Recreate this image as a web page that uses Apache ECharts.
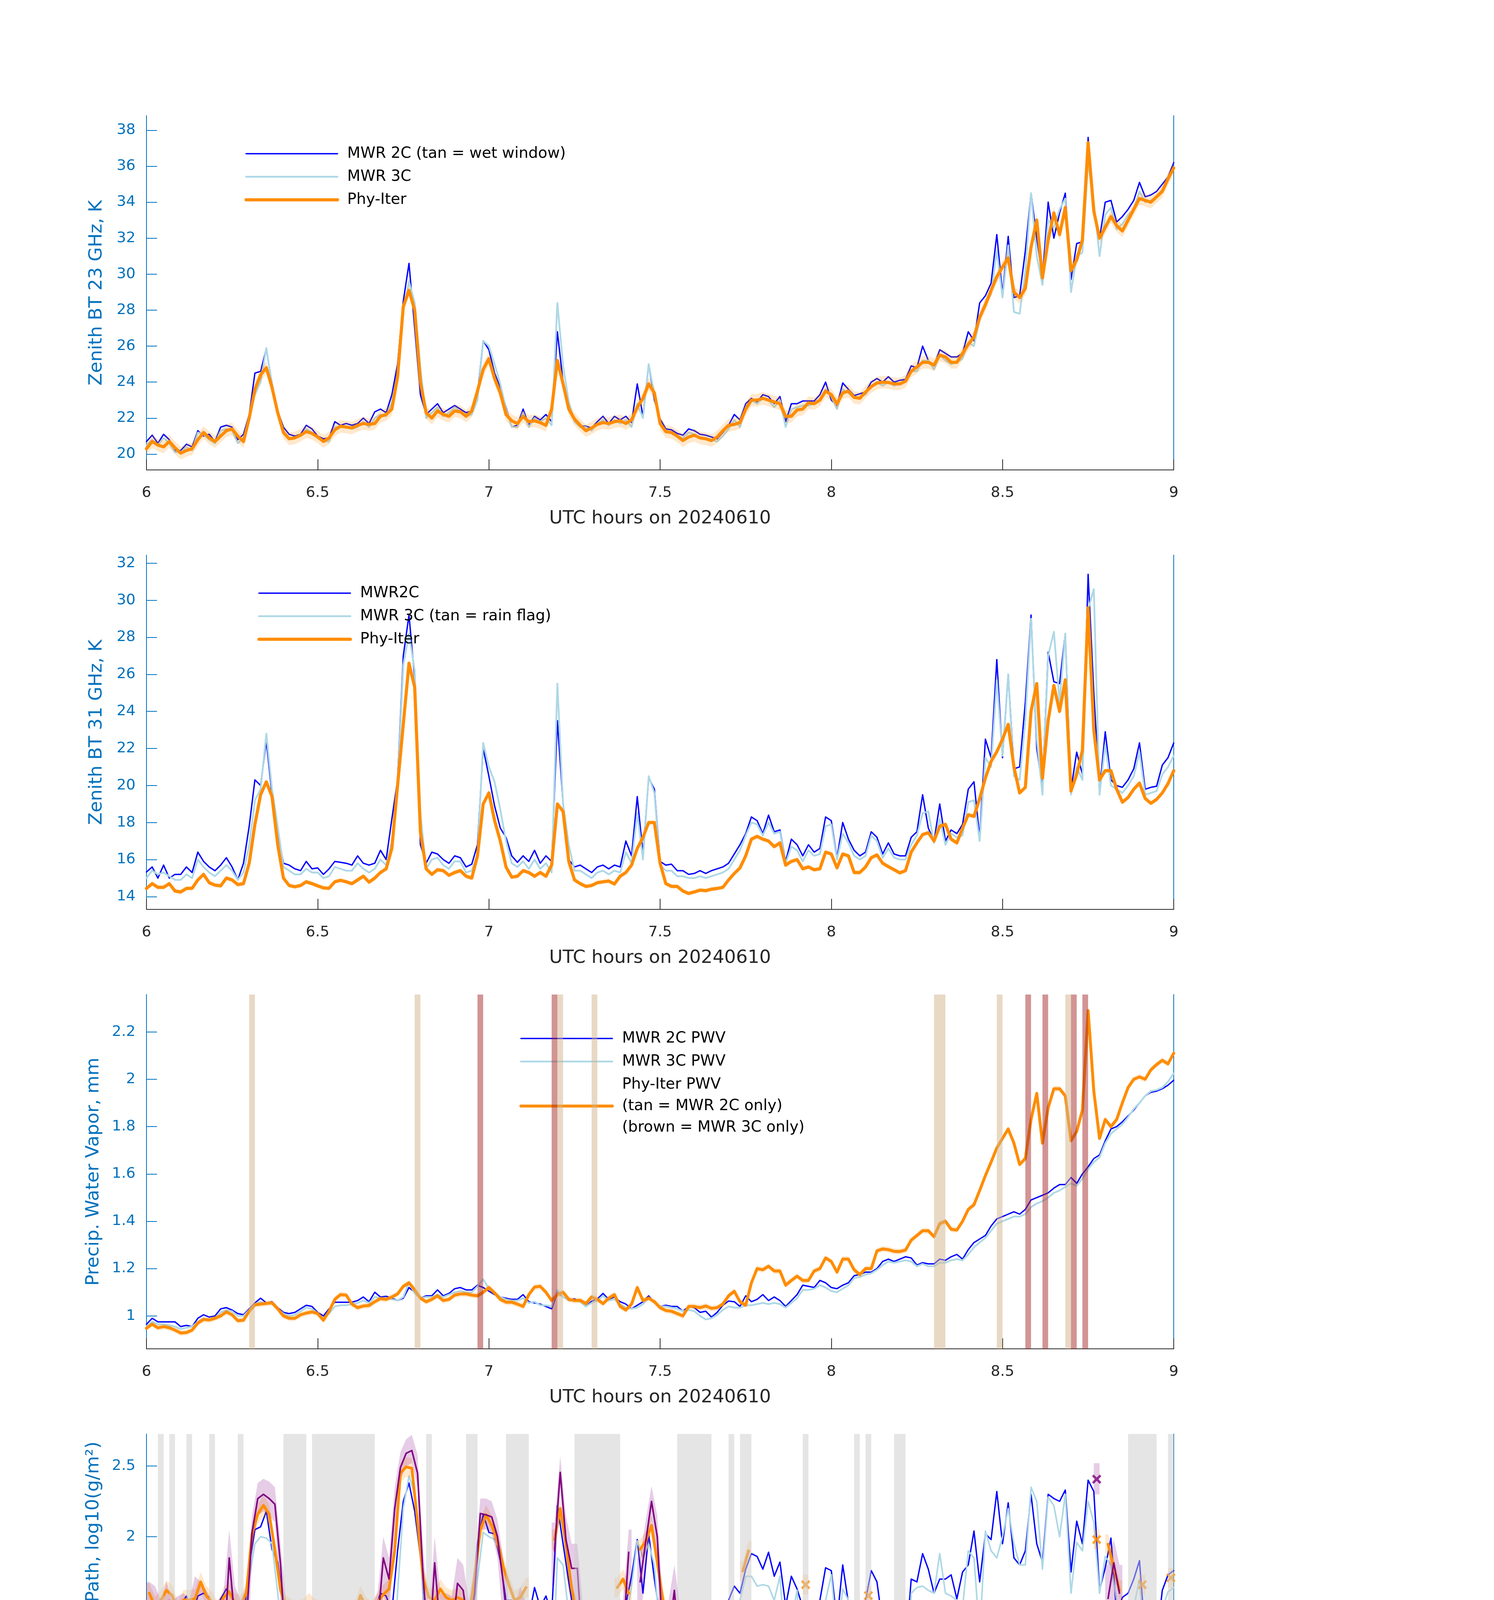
<!DOCTYPE html>
<html><head><meta charset="utf-8">
<script src="https://cdn.jsdelivr.net/npm/echarts@6.0.0/dist/echarts.min.js"></script>
<style>html,body{margin:0;padding:0;background:#fff}#c{width:3825px;height:6000px}</style>
</head><body><div id="c"></div>
<script>
const _ = null;
const mwrTime = []; for (let m = 0; m <= 180; m++) mwrTime.push(6 + m / 60);
const phyTime = []; for (let k = 0; k <= 180; k++) phyTime.push(6 + (k + 0.5) / 60);

const tb23Mwr2c = [
20.7,21.05,20.6,21.1,20.8,20.2,20.2,20.55,20.4,21.3,
21.0,21.1,20.7,21.5,21.6,21.5,20.8,21.1,22.2,24.5,
24.6,25.85,23.9,22.4,21.5,21.1,21.0,21.1,21.6,21.4,
21.0,20.85,20.9,21.8,21.6,21.7,21.6,21.7,22.0,21.7,
22.35,22.5,22.3,23.3,25.0,28.5,30.6,27.0,23.3,22.2,
22.5,22.8,22.3,22.5,22.7,22.5,22.3,22.4,23.3,26.3,
25.8,24.5,23.7,22.6,21.5,21.6,22.5,21.6,22.1,21.9,
22.2,21.8,26.8,24.0,22.5,21.9,21.55,21.55,21.45,21.8,
22.1,21.7,22.1,21.9,22.1,21.75,23.9,22.1,25.0,23.0,
21.95,21.4,21.35,21.15,21.05,21.4,21.3,21.1,21.05,20.95,
20.85,21.2,21.6,22.2,21.9,22.8,23.1,22.9,23.3,23.2,
22.8,23.2,21.8,22.8,22.8,22.95,22.95,22.95,23.3,24.0,
23.0,22.7,23.95,23.6,23.25,23.35,23.45,24.0,24.2,24.0,
24.3,24.0,24.1,24.15,24.9,24.8,26.0,25.2,24.9,25.8,
25.6,25.4,25.4,25.6,26.8,26.3,28.4,28.8,29.5,32.2,
28.9,32.1,28.7,28.8,31.3,34.5,32.0,29.8,34.0,32.0,
33.4,34.5,29.7,31.7,31.8,37.6,33.6,32.0,34.0,34.1,
32.9,33.2,33.6,34.1,35.1,34.3,34.4,34.6,35.0,35.4,
36.2];
const tb23Mwr3c = [
20.5,20.8,20.5,20.9,20.6,20.1,20.1,20.4,20.2,21.2,
21.1,20.8,20.6,21.3,21.4,21.3,20.6,20.9,22.0,23.3,
24.0,25.9,23.8,22.2,21.3,20.9,20.9,21.0,21.4,21.2,
20.9,20.7,20.7,21.5,21.5,21.5,21.4,21.5,21.8,21.5,
22.0,22.2,22.1,22.9,24.5,28.0,29.6,28.4,24.8,22.0,
22.3,22.6,22.1,22.3,22.6,22.4,22.1,22.2,23.0,26.3,
26.0,25.0,23.9,22.5,21.5,21.5,22.3,21.5,22.0,21.8,
22.0,21.6,28.4,24.9,22.9,21.8,21.5,21.5,21.3,21.7,
21.9,21.6,21.9,21.7,21.9,21.5,22.8,22.0,25.0,23.3,
21.8,21.2,21.2,21.0,20.9,21.2,21.1,20.9,20.9,20.8,
20.7,21.0,21.4,21.9,21.5,22.6,23.0,22.8,23.1,23.0,
22.6,23.0,21.5,22.5,22.6,22.7,22.7,22.8,23.0,23.6,
23.2,22.5,23.6,23.4,23.1,23.2,23.3,23.8,24.0,23.8,
24.0,23.8,23.9,24.0,24.6,24.6,25.2,25.2,24.7,25.5,
25.2,25.0,25.1,25.3,26.2,26.0,27.5,28.3,28.9,31.3,
28.7,31.6,27.9,27.8,30.2,34.5,31.0,29.4,33.0,32.6,
33.6,34.2,29.0,31.0,31.2,36.2,34.0,31.0,33.3,33.7,
32.5,32.8,33.3,33.6,34.6,34.0,34.1,34.3,34.7,35.2,
35.9];
const tb23Phy = [
20.3,20.7,20.5,20.4,20.7,20.35,20.05,20.2,20.3,20.8,
21.2,20.9,20.7,21.0,21.3,21.4,21.0,20.7,22.0,23.6,
24.4,24.8,23.7,22.3,21.2,20.85,20.9,21.05,21.25,21.15,
20.95,20.7,20.9,21.35,21.55,21.5,21.45,21.6,21.7,21.65,
21.7,22.1,22.2,22.5,24.3,28.2,29.1,28.0,24.0,22.3,
22.0,22.4,22.2,22.1,22.4,22.35,22.1,22.4,23.5,24.7,
25.3,24.2,23.4,22.2,21.85,21.7,22.1,21.8,21.85,21.75,
21.6,22.5,25.2,23.9,22.5,21.95,21.6,21.3,21.45,21.65,
21.75,21.7,21.8,21.85,21.7,21.9,22.6,23.1,23.9,23.4,
21.7,21.25,21.2,21.0,20.75,20.95,21.05,20.9,20.85,20.75,
20.95,21.3,21.6,21.65,21.75,22.5,23.0,23.0,23.1,23.0,
22.9,22.8,22.1,22.1,22.45,22.5,22.85,22.8,23.0,23.5,
23.3,22.8,23.4,23.5,23.15,23.1,23.45,23.75,23.95,24.0,
23.98,23.9,23.9,24.05,24.6,24.85,25.1,25.1,24.95,25.5,
25.4,25.1,25.1,25.6,26.1,26.5,27.6,28.3,29.1,29.85,
30.4,30.9,29.0,28.7,29.2,31.5,33.0,29.8,31.9,33.4,
32.2,33.7,30.2,30.8,31.9,37.3,33.5,32.0,32.6,33.2,
32.7,32.4,33.0,33.6,34.2,34.1,34.0,34.3,34.6,35.3,
35.9];
const tb23PhyErr = 0.35;

const tb31Mwr2c = [
15.33,15.6,15.0,15.7,15.0,15.2,15.2,15.6,15.3,16.4,
15.9,15.6,15.4,15.7,16.1,15.6,14.9,15.8,17.8,20.3,
20.0,22.4,19.5,17.5,15.8,15.7,15.5,15.4,15.9,15.5,
15.55,15.2,15.5,15.9,15.85,15.8,15.7,16.2,15.8,15.7,
15.8,16.5,16.0,18.2,20.3,27.0,29.2,25.8,16.8,15.8,
16.4,16.3,16.0,15.8,16.2,16.1,15.6,15.75,16.8,22.0,
20.5,18.9,17.7,17.2,16.2,15.85,16.2,15.9,16.5,15.8,
16.2,15.9,23.5,19.0,16.0,15.6,15.7,15.5,15.3,15.6,
15.7,15.5,15.7,15.6,17.0,16.2,19.4,16.3,20.4,19.8,
15.9,15.7,15.75,15.4,15.4,15.2,15.25,15.4,15.25,15.4,
15.5,15.6,15.8,16.3,16.8,17.4,18.3,18.1,17.4,18.4,
17.5,17.6,15.9,17.1,16.8,16.2,16.8,16.4,16.6,18.3,
18.1,16.1,18.0,17.1,16.5,16.2,16.4,17.5,17.2,16.3,
16.9,16.3,16.2,16.2,17.2,17.5,19.5,17.7,17.0,19.0,
17.0,17.6,17.4,17.9,19.8,20.2,17.2,22.5,21.5,26.8,
21.5,26.0,20.9,21.0,24.5,29.2,22.0,19.9,27.2,25.6,
25.5,28.2,19.8,21.8,20.6,31.4,25.0,19.7,22.9,20.3,
19.99,19.9,20.3,20.9,22.3,19.8,19.9,19.96,21.1,21.5,
22.3];
const tb31Mwr3c = [
15.0,15.4,15.2,15.3,15.1,14.9,14.9,15.2,15.0,16.0,
15.6,15.3,15.1,15.4,15.7,15.4,14.9,15.3,16.8,19.2,
19.8,22.8,19.8,17.8,15.6,15.4,15.2,15.2,15.5,15.3,
15.3,15.0,15.1,15.6,15.5,15.4,15.4,15.8,15.5,15.3,
15.5,16.0,15.7,17.0,20.0,26.5,28.2,26.2,18.5,15.5,
16.0,16.1,15.7,15.5,15.9,15.9,15.3,15.4,16.3,22.3,
21.0,20.2,18.7,17.0,15.8,15.6,15.9,15.5,16.0,15.5,
15.8,15.3,25.5,19.0,16.8,15.4,15.4,15.2,15.0,15.3,
15.4,15.2,15.4,15.3,16.4,15.8,18.5,16.0,20.5,19.6,
15.7,15.4,15.4,15.1,15.1,15.0,15.0,15.1,15.0,15.1,
15.2,15.3,15.5,16.0,16.5,17.3,18.0,17.9,17.3,18.0,
17.4,17.5,15.8,16.7,16.5,15.9,16.5,16.2,16.3,17.8,
17.9,16.0,17.4,16.9,16.2,16.0,16.2,17.3,17.0,16.1,
16.6,16.1,16.0,16.0,16.8,17.3,18.5,18.6,16.9,18.2,
16.8,17.4,17.2,17.3,19.1,19.2,17.0,21.5,21.0,25.7,
21.6,26.0,20.5,20.3,23.5,29.0,22.5,19.5,27.0,28.3,
24.5,28.2,19.5,21.0,20.3,29.5,30.6,19.5,22.2,20.0,
19.8,19.6,20.0,20.5,21.8,19.5,19.6,19.7,20.6,21.0,
21.6];
const tb31Phy = [
14.44,14.7,14.5,14.5,14.7,14.3,14.25,14.44,14.45,14.9,
15.2,14.75,14.62,14.58,15.0,14.9,14.65,14.7,15.8,17.9,
19.5,20.2,19.4,16.8,15.0,14.6,14.53,14.6,14.8,14.7,
14.58,14.47,14.45,14.8,14.88,14.8,14.7,14.9,15.1,14.78,
15.0,15.3,15.5,16.6,20.0,23.3,26.6,25.3,17.5,15.5,
15.2,15.45,15.4,15.15,15.3,15.4,15.1,15.0,16.2,19.0,
19.6,18.1,17.0,15.6,15.05,15.1,15.4,15.3,15.1,15.3,
15.1,15.7,19.0,18.6,15.9,14.9,14.7,14.55,14.6,14.75,
14.8,14.84,14.68,15.1,15.3,15.7,16.6,17.2,18.0,18.0,
15.8,14.7,14.55,14.55,14.3,14.17,14.25,14.35,14.32,14.4,
14.44,14.5,14.9,15.25,15.55,16.2,17.1,17.25,17.1,17.0,
16.7,16.9,15.7,15.9,16.0,15.5,15.6,15.45,15.5,16.4,
16.3,15.55,16.3,16.2,15.3,15.3,15.6,16.1,16.25,15.8,
15.62,15.45,15.28,15.4,16.4,16.9,17.35,17.45,17.0,17.8,
17.9,17.1,16.9,17.7,18.42,18.33,19.3,20.4,21.3,21.82,
22.5,23.3,21.0,19.6,19.9,24.0,25.5,20.4,23.5,25.4,
24.0,25.7,19.7,20.6,21.9,29.6,23.0,20.3,20.8,20.8,
19.8,19.1,19.35,19.8,20.13,19.3,19.04,19.25,19.6,20.1,
20.8];
const tb31PhyErr = 0.12;

const pwvMwr2c = [
0.965,0.99,0.975,0.975,0.975,0.975,0.955,0.96,0.955,0.99,
1.005,0.995,1.0,1.03,1.035,1.025,1.01,1.005,1.03,1.055,
1.075,1.055,1.06,1.035,1.015,1.01,1.015,1.03,1.045,1.04,
1.015,1.0,1.03,1.058,1.058,1.058,1.058,1.065,1.08,1.06,
1.1,1.08,1.083,1.075,1.065,1.075,1.12,1.1,1.075,1.085,
1.085,1.11,1.085,1.095,1.115,1.12,1.11,1.11,1.13,1.12,
1.105,1.09,1.08,1.075,1.07,1.07,1.09,1.06,1.055,1.05,
1.04,1.03,1.1,1.08,1.068,1.072,1.06,1.04,1.062,1.072,
1.095,1.07,1.08,1.06,1.05,1.03,1.045,1.06,1.085,1.055,
1.04,1.045,1.04,1.04,1.02,1.04,1.035,1.015,1.02,0.995,
1.015,1.045,1.063,1.06,1.04,1.085,1.06,1.07,1.09,1.065,
1.08,1.065,1.04,1.065,1.09,1.13,1.125,1.12,1.15,1.14,
1.12,1.115,1.13,1.14,1.17,1.175,1.185,1.185,1.2,1.23,
1.24,1.23,1.24,1.25,1.245,1.215,1.225,1.22,1.22,1.24,
1.235,1.25,1.26,1.24,1.28,1.31,1.325,1.34,1.38,1.41,
1.42,1.43,1.44,1.43,1.45,1.49,1.50,1.51,1.52,1.54,
1.555,1.555,1.585,1.56,1.60,1.63,1.665,1.68,1.74,1.79,
1.80,1.82,1.845,1.87,1.90,1.93,1.945,1.95,1.96,1.975,
1.996];
const pwvMwr3c = [
0.955,0.975,0.965,0.965,0.96,0.955,0.945,0.95,0.955,0.975,
0.99,0.985,0.99,1.015,1.025,1.02,1.0,1.0,1.025,1.05,
1.06,1.05,1.055,1.03,1.01,1.0,1.005,1.02,1.035,1.03,
1.01,0.99,1.01,1.04,1.045,1.045,1.05,1.055,1.065,1.055,
1.08,1.075,1.075,1.07,1.065,1.08,1.14,1.095,1.075,1.08,
1.08,1.09,1.08,1.09,1.1,1.105,1.1,1.1,1.125,1.155,
1.115,1.1,1.08,1.07,1.065,1.065,1.075,1.055,1.06,1.045,
1.045,1.04,1.11,1.08,1.065,1.065,1.06,1.04,1.055,1.065,
1.085,1.065,1.07,1.05,1.035,1.03,1.035,1.05,1.075,1.055,
1.04,1.04,1.035,1.03,1.02,1.025,1.02,1.0,0.985,0.99,
1.005,1.025,1.04,1.035,1.035,1.045,1.045,1.05,1.055,1.05,
1.055,1.05,1.035,1.055,1.075,1.11,1.11,1.115,1.13,1.12,
1.105,1.1,1.115,1.13,1.16,1.165,1.175,1.18,1.195,1.215,
1.23,1.225,1.23,1.235,1.23,1.21,1.22,1.21,1.21,1.225,
1.225,1.235,1.24,1.235,1.26,1.29,1.31,1.33,1.36,1.39,
1.40,1.41,1.42,1.42,1.43,1.46,1.475,1.485,1.50,1.52,
1.53,1.545,1.56,1.55,1.58,1.62,1.65,1.67,1.73,1.77,
1.79,1.81,1.84,1.875,1.90,1.93,1.95,1.955,1.965,1.99,
2.025];
const pwvPhy = [
0.948,0.965,0.95,0.955,0.95,0.94,0.928,0.93,0.94,0.97,
0.985,0.983,0.99,1.0,1.017,1.005,0.98,0.982,1.02,1.047,
1.05,1.053,1.055,1.03,1.0,0.99,0.99,1.005,1.012,1.017,
1.01,0.982,1.02,1.07,1.09,1.088,1.05,1.035,1.042,1.044,
1.06,1.073,1.07,1.08,1.093,1.125,1.14,1.11,1.075,1.06,
1.07,1.085,1.065,1.07,1.088,1.093,1.093,1.088,1.085,1.1,
1.12,1.097,1.07,1.058,1.058,1.05,1.04,1.09,1.122,1.125,
1.1,1.065,1.09,1.1,1.07,1.065,1.066,1.052,1.08,1.07,
1.052,1.075,1.09,1.04,1.025,1.05,1.12,1.065,1.075,1.06,
1.035,1.023,1.02,1.01,1.0,1.04,1.04,1.035,1.042,1.032,
1.035,1.05,1.085,1.104,1.06,1.045,1.14,1.2,1.195,1.21,
1.19,1.19,1.13,1.15,1.168,1.15,1.15,1.19,1.2,1.245,
1.23,1.185,1.24,1.24,1.195,1.175,1.2,1.2,1.275,1.283,
1.28,1.273,1.272,1.278,1.32,1.34,1.36,1.36,1.335,1.39,
1.40,1.366,1.363,1.40,1.45,1.47,1.53,1.593,1.65,1.71,
1.75,1.79,1.73,1.64,1.665,1.83,1.94,1.73,1.88,1.96,
1.96,1.93,1.74,1.78,1.87,2.29,1.95,1.75,1.83,1.80,
1.83,1.90,1.965,2.0,2.01,2.0,2.04,2.062,2.08,2.065,
2.11];
const pwvPhyErr = 0.012;
const pwvTanSpans = [[6.3000,6.3167],[6.7833,6.8000],[7.2000,7.2167],[7.3000,7.3167],[8.3000,8.3333],[8.4833,8.5000],[8.6833,8.7000]];
const pwvBrownSpans = [[6.9667,6.9833],[7.1833,7.2000],[8.5667,8.5833],[8.6167,8.6333],[8.7000,8.7167],[8.7333,8.7500]];

const lwpMwr2c = [
1.43,1.53,1.35,1.45,1.55,1.30,1.52,1.58,1.43,1.58,
1.60,1.57,1.43,1.56,1.63,1.57,1.29,1.40,1.80,2.05,
2.07,2.18,1.91,1.82,1.52,1.45,1.43,1.45,1.52,1.43,
1.45,1.41,1.45,1.50,1.51,1.45,1.45,1.45,1.45,1.43,
1.48,1.60,1.58,1.47,1.90,2.25,2.38,2.18,1.86,1.47,
1.55,1.52,1.47,1.40,1.53,1.45,1.43,1.52,1.95,2.16,
2.03,2.02,1.83,1.55,1.55,1.42,1.52,1.43,1.64,1.50,
1.58,1.45,2.22,1.95,1.68,1.43,1.40,1.43,1.36,1.43,
1.47,1.43,1.50,1.54,1.52,1.72,1.98,1.60,2.02,1.70,
1.43,1.36,1.47,1.43,1.32,1.33,1.27,1.40,1.41,1.43,
1.45,1.43,1.55,1.65,1.60,1.77,1.88,1.86,1.77,1.89,
1.72,1.82,1.51,1.72,1.63,1.50,1.53,1.40,1.55,1.78,
1.76,1.40,1.80,1.53,1.43,1.40,1.55,1.76,1.68,1.38,
1.52,1.23,1.30,1.18,1.70,1.68,1.88,1.77,1.60,1.70,
1.70,1.73,1.56,1.75,1.80,2.04,1.68,2.02,1.98,2.32,
1.95,2.24,1.85,1.80,1.90,2.30,1.95,1.82,2.30,2.27,
2.25,2.33,1.75,2.11,1.95,2.40,2.32,1.62,1.78,1.99,
1.45,1.57,1.60,1.70,1.83,1.30,1.27,1.27,1.62,1.73,
1.76];
const lwpMwr3c = [
0.92,1.25,1.15,1.30,1.20,0.90,0.88,1.40,0.87,1.45,
1.20,0.95,1.30,1.30,1.25,1.45,1.14,1.30,1.70,1.95,
2.00,1.99,1.95,1.60,1.25,0.93,1.02,0.86,1.25,1.03,
1.13,1.02,0.88,1.12,1.03,1.07,1.00,1.13,1.30,1.05,
1.20,1.25,1.05,1.03,1.60,2.20,2.43,2.30,1.95,1.10,
1.40,1.25,1.15,1.30,1.20,1.00,1.30,1.40,1.70,2.03,
2.00,1.98,1.90,1.45,1.23,1.42,1.25,1.32,1.20,1.25,
1.12,0.88,1.85,1.80,1.45,1.25,0.85,1.05,1.15,1.10,
1.20,0.90,1.20,1.55,1.40,1.65,1.97,1.85,1.95,1.80,
1.30,1.10,1.01,0.90,0.70,0.55,0.55,0.34,0.70,0.97,
1.12,1.05,0.80,1.15,1.55,1.72,1.72,1.65,1.66,1.65,
1.55,1.72,1.20,1.40,1.62,1.05,1.40,1.20,1.08,1.55,
1.73,1.30,1.63,1.55,1.10,0.94,1.00,1.54,1.50,0.95,
0.95,0.80,0.59,0.70,1.60,1.64,1.65,1.62,1.60,1.88,
1.60,1.58,1.55,1.50,1.90,1.85,1.30,2.04,1.90,1.85,
2.00,2.20,1.95,1.80,1.80,2.35,2.25,1.77,2.28,2.22,
2.00,2.30,1.60,1.96,1.90,2.25,2.10,1.60,1.86,1.80,
1.55,1.47,1.35,1.50,1.70,1.15,1.05,1.05,1.49,1.61,
1.64];
const lwpPhy = [
1.60,1.505,1.55,1.62,1.585,1.47,1.553,1.553,1.56,1.68,
1.58,1.54,1.466,1.57,1.61,1.53,1.515,1.60,2.02,2.16,
2.222,2.16,1.91,1.62,1.51,1.485,1.476,1.49,1.53,1.49,
1.48,1.447,_,_,_,_,1.46,1.585,1.50,1.47,
1.54,1.59,1.63,1.90,2.45,2.494,2.485,2.106,1.70,1.57,
1.55,1.63,1.57,1.55,1.57,1.55,1.43,1.70,2.048,2.155,
2.08,1.97,1.79,1.66,1.55,1.57,1.64,_,_,_,
_,1.98,2.20,1.95,1.63,1.45,1.42,_,_,1.47,
1.45,_,1.64,1.70,1.60,_,1.91,1.97,2.08,1.82,
1.55,1.41,1.46,1.42,1.31,_,1.33,_,_,_,
_,_,_,_,1.757,1.90,_,_,_,_,
_,_,_,_,_,1.66,_,_,_,_,
_,_,_,_,1.408,_,1.583,_,_,_,
_,_,_,_,_,_,_,_,_,_,
_,_,_,_,_,_,_,_,_,_,
_,_,_,_,_,_,_,_,_,_,
_,_,_,_,_,_,1.98,_,1.947,1.78,
1.621,_,_,_,1.66,_,_,_,_,1.709,
_];
const lwpPhyErr = 0.07;
const lwpAdiab = [
1.43,1.39,1.14,1.40,1.16,1.27,1.31,1.14,1.50,1.41,
1.37,1.14,1.16,1.14,1.85,1.40,1.14,1.39,2.03,2.27,
2.30,2.27,2.23,1.80,1.136,1.136,1.136,1.136,1.136,1.136,
1.136,1.136,_,_,_,_,1.136,1.136,1.14,1.14,
1.37,1.85,1.70,2.20,2.49,2.59,2.61,2.45,1.70,1.17,
1.815,1.34,1.36,1.30,1.67,1.62,1.31,1.60,2.164,2.155,
2.14,2.00,1.68,1.30,1.146,1.42,1.175,_,_,_,
_,1.90,2.455,1.98,1.776,1.776,1.155,_,_,1.146,
1.146,_,1.31,1.27,1.89,_,1.68,1.97,2.25,2.00,
1.272,1.29,1.62,1.155,1.155,_,1.152,_,_,_,
_,_,_,_,1.152,1.152,_,_,_,_,
_,_,_,_,_,1.155,_,_,_,_,
_,_,_,_,1.16,_,1.136,_,_,_,
_,_,_,_,_,_,_,_,_,_,
_,_,_,_,_,_,_,_,_,_,
_,_,_,_,_,_,_,_,_,_,
_,_,_,_,_,_,2.407,_,1.563,1.815,
1.60,_,_,_,0.913,_,_,_,_,0.913,
_];
const lwpAdiabLo = [
0.90,0.85,0.55,0.80,0.60,0.65,0.70,0.55,0.95,0.85,
0.80,0.58,0.60,0.55,1.50,0.80,0.55,0.90,1.85,2.15,
2.18,2.15,2.10,1.55,0.54,0.54,0.54,0.54,0.54,0.54,
0.54,0.54,_,_,_,_,0.54,0.54,0.54,0.54,
0.95,1.60,1.40,2.05,2.40,2.50,2.52,2.35,1.45,0.70,
1.55,0.80,0.70,0.75,1.35,1.30,0.70,1.30,2.05,2.05,
2.03,1.85,1.40,0.80,0.56,0.85,0.56,_,_,_,
_,1.65,2.35,1.75,1.50,1.50,0.55,_,_,0.55,
0.55,_,0.75,0.70,1.65,_,1.40,1.75,2.12,1.80,
0.75,0.75,1.30,0.55,0.55,_,0.55,_,_,_,
_,_,_,_,0.55,0.55,_,_,_,_,
_,_,_,_,_,0.55,_,_,_,_,
_,_,_,_,0.55,_,0.55,_,_,_,
_,_,_,_,_,_,_,_,_,_,
_,_,_,_,_,_,_,_,_,_,
_,_,_,_,_,_,_,_,_,_,
_,_,_,_,_,_,2.30,_,1.15,1.55,
1.35,_,_,_,0.30,_,_,_,_,0.30,
_];
const lwpAdiabHi = [
1.68,1.65,1.55,1.68,1.55,1.58,1.60,1.55,1.72,1.68,
1.62,1.55,1.55,1.60,2.05,1.65,1.55,1.65,2.15,2.38,
2.41,2.39,2.35,1.95,1.52,1.52,1.52,1.52,1.52,1.52,
1.52,1.52,_,_,_,_,1.52,1.52,1.52,1.52,
1.60,2.00,1.85,2.35,2.60,2.69,2.72,2.58,1.90,1.45,
2.00,1.60,1.60,1.58,1.85,1.80,1.55,1.80,2.27,2.27,
2.25,2.12,1.85,1.55,1.50,1.65,1.52,_,_,_,
_,2.10,2.57,2.15,1.95,1.95,1.50,_,_,1.50,
1.50,_,1.55,1.55,2.05,_,1.85,2.12,2.36,2.15,
1.55,1.55,1.80,1.50,1.50,_,1.50,_,_,_,
_,_,_,_,1.50,1.50,_,_,_,_,
_,_,_,_,_,1.50,_,_,_,_,
_,_,_,_,1.50,_,1.50,_,_,_,
_,_,_,_,_,_,_,_,_,_,
_,_,_,_,_,_,_,_,_,_,
_,_,_,_,_,_,_,_,_,_,
_,_,_,_,_,_,2.52,_,1.80,1.98,
1.80,_,_,_,1.30,_,_,_,_,1.30,
_];

const dqFlag = [
0,0,4,0,4,0,0,4,0,0,
0,4,0,0,0,0,4,0,0,0,
0,0,0,0,4,4,4,4,0,4,
4,4,4,4,4,4,4,4,4,4,
0,0,0,0,0,0,0,0,0,4,
0,0,0,0,0,0,4,4,0,0,
0,0,0,4,4,4,4,0,0,0,
0,0,0,0,0,4,4,4,4,4,
4,4,4,0,0,0,0,0,0,0,
0,0,0,4,4,3,4,3,4,0,
0,0,4,0,4,4,0,0,0,0,
0,0,0,0,0,4,0,0,0,0,
0,0,0,0,4,0,4,0,0,0,
0,4,4,0,0,0,0,0,0,0,
0,0,0,0,0,0,0,0,0,0,
0,0,0,0,0,0,0,0,0,0,
0,0,0,0,0,0,0,0,0,0,
0,0,4,4,4,4,4,0,0,4,
0];

const xTitle = 'UTC hours on 20240610';
const yTitles = ['Zenith BT 23 GHz, K','Zenith BT 31 GHz, K','Precip. Water Vapor, mm','log10 Liquid Water Path, log10(g/m\u00B2)','MWR Phy Iter DQ Flag'];
const yMin = [19.12, 13.31, 0.861, 0.219, -0.5];
const yMax = [38.81, 32.44, 2.358, 2.727, 11.51];
const yTicks = [
  [20,22,24,26,28,30,32,34,36,38],
  [14,16,18,20,22,24,26,28,30,32],
  [1,1.2,1.4,1.6,1.8,2,2.2],
  [0.5,1,1.5,2,2.5],
  [0,2,4,6,8,10]
];

const FONT = 'DejaVu Sans';
const AXB = '#0072BD', AXD = '#262626';
const C2 = '#0000FF', C3 = '#ADD8E6', CP = '#FF8C00', CA = '#800080';
const GL = 375, GW = 2630, GH = 907;
const tops = [296, 1421, 2546, 3671, 4795];
const nameGaps = [104, 104, 112, 112, 104];

function lineS(gi, name, times, vals, color, width, z) {
  return { type: 'line', name, xAxisIndex: gi, yAxisIndex: gi,
    data: times.map((t, i) => [t, vals[i]]), symbol: 'none', showSymbol: false,
    lineStyle: { color, width, join: 'round', cap: 'round' }, itemStyle: { color },
    z, silent: true, animation: false, clip: true };
}
function bandS(gi, times, lo, hi, fill, ext, z) {
  return { type: 'custom', xAxisIndex: gi, yAxisIndex: gi, silent: true, z, animation: false,
    data: [[7.5, (yMin[gi] + yMax[gi]) / 2]],
    renderItem(params, api) {
      const cs = params.coordSys;
      const cl = p => [Math.max(cs.x, Math.min(cs.x + cs.width, p[0])), Math.max(cs.y, Math.min(cs.y + cs.height, p[1]))];
      const segs = []; let cur = [];
      for (let k = 0; k < times.length; k++) {
        if (lo[k] == null || hi[k] == null) { if (cur.length) segs.push(cur); cur = []; }
        else cur.push(k);
      }
      if (cur.length) segs.push(cur);
      const children = segs.map(seg => {
        const up = [], dn = [];
        seg.forEach((k, j) => {
          const t = times[k];
          if (j === 0 && ext) { up.push(cl(api.coord([t - ext, hi[k]]))); dn.push(cl(api.coord([t - ext, lo[k]]))); }
          up.push(cl(api.coord([t, hi[k]]))); dn.push(cl(api.coord([t, lo[k]])));
          if (j === seg.length - 1 && ext) { up.push(cl(api.coord([t + ext, hi[k]]))); dn.push(cl(api.coord([t + ext, lo[k]]))); }
        });
        return { type: 'polygon', shape: { points: up.concat(dn.reverse()) }, style: { fill } };
      });
      return { type: 'group', children };
    } };
}
function vbandS(gi, spans, fill, z) {
  return { type: 'custom', xAxisIndex: gi, yAxisIndex: gi, silent: true, z, animation: false,
    data: spans.map(s => [s[0], s[1]]),
    renderItem(params, api) {
      const cs = params.coordSys;
      let a = api.coord([api.value(0), yMin[gi]])[0];
      let b = api.coord([api.value(1), yMin[gi]])[0];
      a = Math.max(cs.x, a); b = Math.min(cs.x + cs.width, b);
      return { type: 'rect', shape: { x: a, y: cs.y, width: b - a, height: cs.height }, style: { fill } };
    } };
}
const lower = (v, e) => v.map(x => x == null ? null : x - e);
const upper = (v, e) => v.map(x => x == null ? null : x + e);
const isolated = (vals) => vals.map((v, k) => (v != null && (k === 0 || vals[k - 1] == null) && (k === vals.length - 1 || vals[k + 1] == null)) ? [phyTime[k], v] : null).filter(Boolean);

const flagSpans = [];
{ let s = -1;
  for (let k = 0; k < dqFlag.length; k++) {
    const f = dqFlag[k] !== 0;
    if (f && s < 0) s = k;
    if (s >= 0 && (!f || k === dqFlag.length - 1)) {
      const e = f ? k : k - 1;
      flagSpans.push([phyTime[s] - 1 / 120, phyTime[e] + 1 / 120]);
      s = -1;
    }
  }
}

const XSYM = 'path://M0,1.8L1.8,0L5,3.2L8.2,0L10,1.8L6.8,5L10,8.2L8.2,10L5,6.8L1.8,10L0,8.2L3.2,5Z';

const N1 = ['MWR 2C (tan = wet window)', 'MWR 3C', 'Phy-Iter'];
const N2 = ['MWR2C', 'MWR 3C (tan = rain flag)', 'Phy-Iter'];
const N3 = ['MWR 2C PWV', 'MWR 3C PWV', 'Phy-Iter PWV\n(tan = MWR 2C only)\n(brown = MWR 3C only)'];
const N4 = ['MWR 2C LWP', 'MWR 3C LWP', 'Phy-Iter LWP', 'Adiabatic LWP'];

const series = [
  lineS(0, N1[0], mwrTime, tb23Mwr2c, C2, 3.5, 2),
  lineS(0, N1[1], mwrTime, tb23Mwr3c, C3, 4.5, 2),
  bandS(0, mwrTime, lower(tb23Phy, tb23PhyErr), upper(tb23Phy, tb23PhyErr), 'rgba(255,140,0,0.2)', 0, 3),
  lineS(0, N1[2], mwrTime, tb23Phy, CP, 8, 4),
  lineS(1, N2[0], mwrTime, tb31Mwr2c, C2, 3.5, 2),
  lineS(1, N2[1], mwrTime, tb31Mwr3c, C3, 4.5, 2),
  bandS(1, mwrTime, lower(tb31Phy, tb31PhyErr), upper(tb31Phy, tb31PhyErr), 'rgba(255,140,0,0.2)', 0, 3),
  lineS(1, N2[2], mwrTime, tb31Phy, CP, 8, 4),
  lineS(2, N3[0], mwrTime, pwvMwr2c, C2, 3.5, 2),
  lineS(2, N3[1], mwrTime, pwvMwr3c, C3, 4.5, 2),
  bandS(2, mwrTime, lower(pwvPhy, pwvPhyErr), upper(pwvPhy, pwvPhyErr), 'rgba(255,140,0,0.2)', 0, 3),
  lineS(2, N3[2], mwrTime, pwvPhy, CP, 7.5, 4),
  vbandS(2, pwvTanSpans, 'rgba(210,180,140,0.5)', 10),
  vbandS(2, pwvBrownSpans, 'rgba(165,42,42,0.5)', 10),
  lineS(3, N4[0], mwrTime, lwpMwr2c, C2, 3.5, 2),
  lineS(3, N4[1], mwrTime, lwpMwr3c, C3, 4, 2),
  bandS(3, phyTime, lower(lwpPhy, lwpPhyErr), upper(lwpPhy, lwpPhyErr), 'rgba(255,140,0,0.2)', 1 / 120, 3),
  bandS(3, phyTime, lwpAdiabLo, lwpAdiabHi, 'rgba(128,0,128,0.2)', 1 / 120, 3),
  lineS(3, N4[2], phyTime, lwpPhy, CP, 7, 4),
  lineS(3, N4[3], phyTime, lwpAdiab, CA, 4, 5),
  { type: 'scatter', xAxisIndex: 3, yAxisIndex: 3, data: isolated(lwpPhy), symbol: XSYM, symbolSize: 24, itemStyle: { color: CP }, z: 6, silent: true, animation: false },
  { type: 'scatter', xAxisIndex: 3, yAxisIndex: 3, data: isolated(lwpAdiab), symbol: XSYM, symbolSize: 24, itemStyle: { color: CA }, z: 6, silent: true, animation: false },
  vbandS(3, flagSpans, 'rgba(204,204,204,0.5)', 10),
  { type: 'scatter', xAxisIndex: 4, yAxisIndex: 4, data: phyTime.map((t, k) => [t, dqFlag[k]]), symbol: 'circle', symbolSize: 8, itemStyle: { color: CP }, z: 3, silent: true, animation: false }
];

function legendOf(left, top, names, widths) {
  return { orient: 'vertical', left, top, padding: 0, itemWidth: 234, itemHeight: 4, itemGap: 4,
    selectedMode: false, z: 5,
    itemStyle: { color: 'rgba(0,0,0,0)', borderColor: 'rgba(0,0,0,0)', borderWidth: 0, opacity: 0 },
    textStyle: { fontFamily: FONT, fontSize: 39, color: '#000', lineHeight: 55, padding: [0, 0, 0, 20] },
    data: names.map((n, i) => ({ name: n, lineStyle: { width: widths[i] } })) };
}

const option = {
  backgroundColor: '#fff',
  animation: false,
  grid: tops.map(t => ({ left: GL, top: t, width: GW, height: GH })),
  xAxis: tops.map((t, i) => ({
    type: 'value', gridIndex: i, min: 6, max: 9, interval: 0.5,
    axisLine: { show: true, onZero: false, lineStyle: { color: AXD, width: 2 } },
    axisTick: { show: true, inside: true, length: 27, lineStyle: { color: AXD, width: 2 } },
    axisLabel: { color: AXD, fontSize: 38, fontFamily: FONT, margin: 40, lineHeight: 38 },
    splitLine: { show: false },
    name: xTitle, nameLocation: 'middle', nameGap: 101,
    nameTextStyle: { color: AXD, fontSize: 47, fontFamily: FONT, lineHeight: 47 }
  })),
  yAxis: tops.map((t, i) => ({
    type: 'value', gridIndex: i, position: 'left', min: yMin[i], max: yMax[i],
    axisLine: { show: true, onZero: false, lineStyle: { color: AXB, width: 2 } },
    axisTick: { show: true, inside: true, length: 27, customValues: yTicks[i], lineStyle: { color: AXB, width: 2 } },
    axisLabel: { customValues: yTicks[i], color: AXB, fontSize: 38, fontFamily: FONT, margin: 28 },
    splitLine: { show: false },
    name: yTitles[i], nameLocation: 'middle', nameGap: nameGaps[i],
    nameTextStyle: { color: AXB, fontSize: 47, fontFamily: FONT, lineHeight: 47 }
  })).concat(tops.map((t, i) => ({
    type: 'value', gridIndex: i, position: 'right', min: yMin[i], max: yMax[i],
    axisLine: { show: true, onZero: false, lineStyle: { color: AXB, width: 2 } },
    axisTick: { show: false }, axisLabel: { show: false }, splitLine: { show: false }
  }))),
  legend: [
    legendOf(626, 366, N1, [3.5, 4.5, 8]),
    legendOf(659, 1491, N2, [3.5, 4.5, 8]),
    legendOf(1330, 2631, N3, [3.5, 4.5, 7.5]),
    legendOf(2299, 4311, N4, [3.5, 4, 7, 4])
  ],
  series
};
const chart = echarts.init(document.getElementById('c'));
chart.setOption(option);
</script>
</body></html>
